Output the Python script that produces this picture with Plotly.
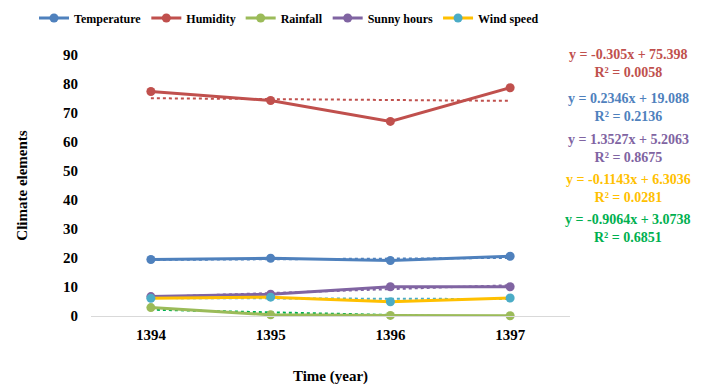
import plotly.graph_objects as go

years = ["1394", "1395", "1396", "1397"]
temperature = [19.5, 19.9, 19.1, 20.6]
humidity = [77.4, 74.3, 67.1, 78.7]
rainfall = [2.9, 0.4, 0.2, 0.1]
sunny_hours = [6.7, 7.5, 10.1, 10.1]
wind_speed = [6.1, 6.5, 4.9, 6.2]

series_names = ["Temperature", "Humidity", "Rainfall", "Sunny hours", "Wind speed"]
trend_slopes = [0.2346, -0.305, -0.9064, 1.3527, -0.1143]
trend_intercepts = [19.088, 75.398, 3.0738, 5.2063, 6.3036]
trend_r2 = ["0.2136", "0.0058", "0.6851", "0.8675", "0.0281"]

line_colors = ["#4F81BD", "#C0504D", "#9BBB59", "#8064A2", "#FFC000"]
marker_colors = ["#4F81BD", "#C0504D", "#9BBB59", "#8064A2", "#4BACC6"]
trend_colors = ["#4F81BD", "#C0504D", "#00B050", "#8064A2", "#4BACC6"]
eq_colors = ["#4F81BD", "#C0504D", "#00B050", "#8064A2", "#FFC000"]

data = [temperature, humidity, rainfall, sunny_hours, wind_speed]
font = "Liberation Serif, Times New Roman, serif"

fig = go.Figure()
for i, name in enumerate(series_names):
    xs = [1, 2, 3, 4]
    ty = [trend_slopes[i] * x + trend_intercepts[i] for x in xs]
    fig.add_trace(go.Scatter(x=years, y=ty, mode="lines", showlegend=False,
                             line=dict(color=trend_colors[i], width=2, dash="dot"),
                             hoverinfo="skip", cliponaxis=False))
for i, name in enumerate(series_names):
    fig.add_trace(go.Scatter(x=years, y=data[i], mode="lines+markers", name=name,
                             line=dict(color=line_colors[i], width=3),
                             marker=dict(color=marker_colors[i], size=9),
                             cliponaxis=False))

order = [1, 0, 3, 4, 2]
ypos = [55, 99, 140, 180, 220]
for k, i in enumerate(order):
    a = trend_slopes[i]
    b = trend_intercepts[i]
    eq = f"y = {a:g}x + {b:g}<br>R² = {trend_r2[i]}"
    fig.add_annotation(xref="paper", yref="paper", x=(628 - 91) / 479,
                       y=1 - (ypos[k] + 8 - 55) / 261, text=eq, showarrow=False,
                       xanchor="center", yanchor="middle", align="center",
                       font=dict(family=font, size=14, color=eq_colors[i], weight="bold"))

# page body adds an 8px offset, so the figure is laid out 8px up/left
fig.update_layout(
    width=695, height=377,
    margin=dict(l=83, r=133, t=47, b=69, autoexpand=False),
    paper_bgcolor="white", plot_bgcolor="white",
    font=dict(family=font, size=14, color="#000000", weight="bold"),
    legend=dict(orientation="h", xref="paper", yref="paper",
                x=(34 - 91) / 479, y=1 + (55 - 18) / 261, xanchor="left", yanchor="middle",
                font=dict(family=font, size=12, weight="bold"),
                itemwidth=30, tracegroupgap=0),
    xaxis=dict(type="category", range=[-0.5, 3.5], showgrid=False, automargin=False,
               showline=True, linecolor="#D9D9D9", linewidth=1,
               ticks="", ticklabelstandoff=5,
               tickfont=dict(family=font, size=15, weight="bold"),
               title=dict(text="Time (year)", standoff=28,
                          font=dict(family=font, size=15, weight="bold")),
               zeroline=False),
    yaxis=dict(range=[0, 90], dtick=10, showgrid=False, showline=False, automargin=False,
               zeroline=False, ticks="", ticklabelstandoff=12,
               tickfont=dict(family=font, size=15, weight="bold"),
               title=dict(text="Climate elements", standoff=31,
                          font=dict(family=font, size=15, weight="bold"))),
)

fig.write_html("out.html")
